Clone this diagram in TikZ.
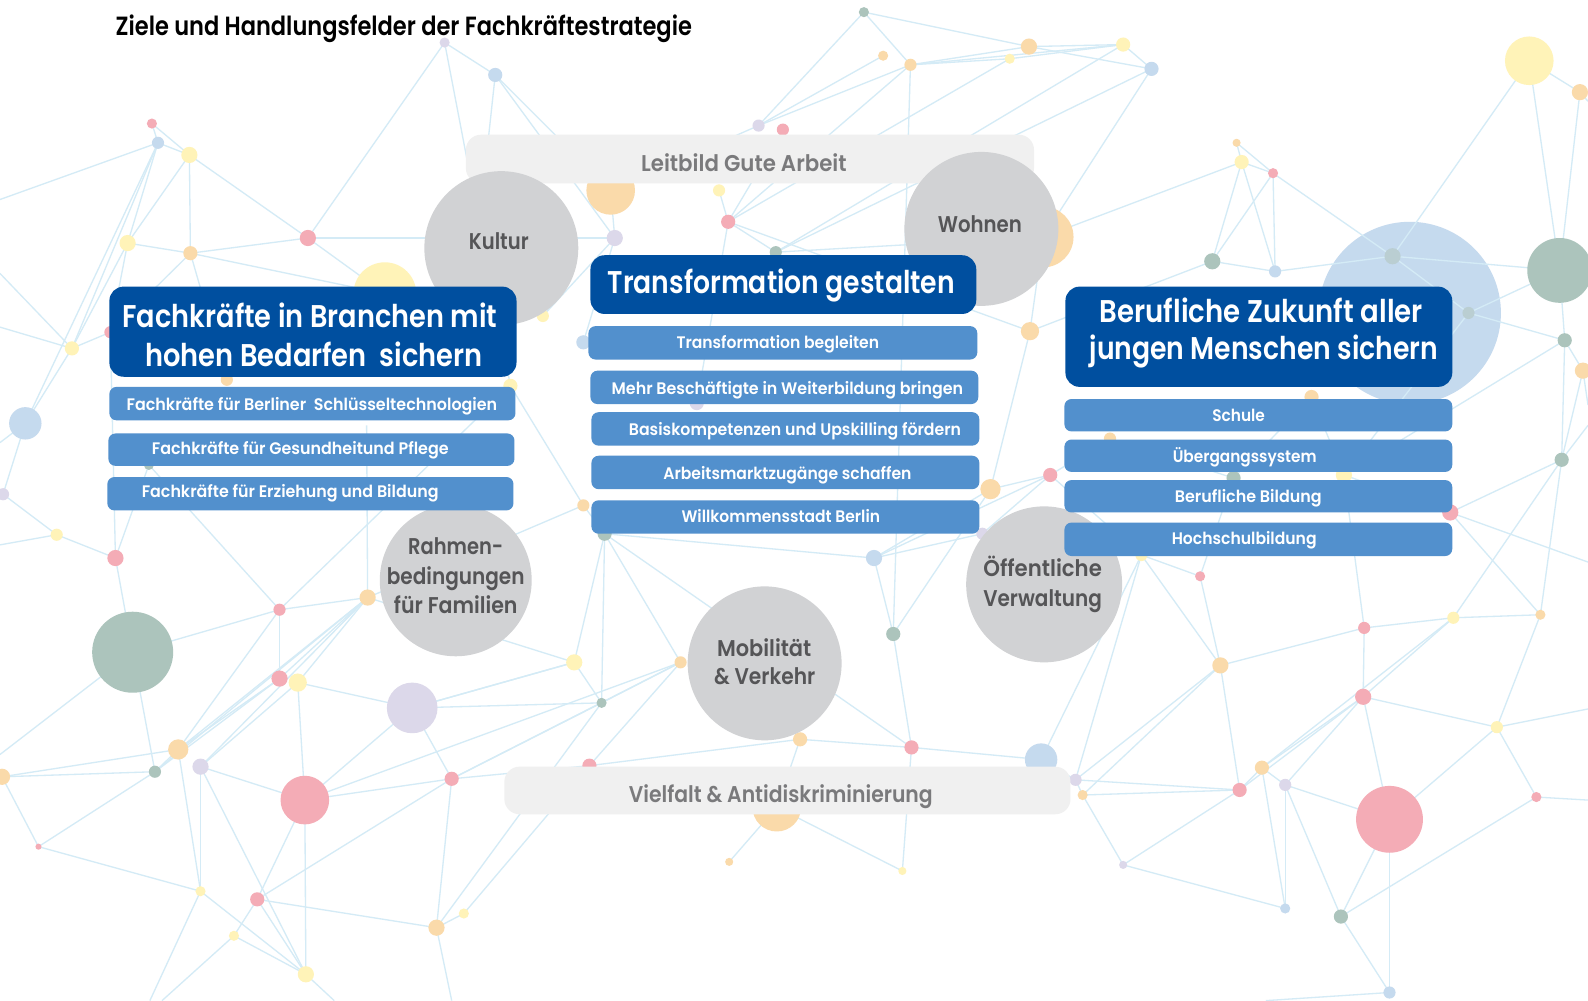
\documentclass[tikz,border=0pt]{standalone}
\usepackage{fontspec}
\setmainfont{Poppins}
\newfontfamily\semib{Poppins SemiBold}
\newfontfamily\medi{Poppins Medium}
\definecolor{hdrblue}{RGB}{0,79,159}
\definecolor{subblue}{RGB}{82,144,205}
\definecolor{circg}{RGB}{209,210,212}
\definecolor{barg}{RGB}{240,240,240}
\definecolor{circtext}{RGB}{85,85,87}
\definecolor{bartext}{RGB}{122,122,124}
\definecolor{netline}{RGB}{212,235,246}
\definecolor{dP}{RGB}{244,172,182}
\definecolor{dY}{RGB}{255,243,184}
\definecolor{dO}{RGB}{250,218,170}
\definecolor{dB}{RGB}{197,218,238}
\definecolor{dL}{RGB}{220,216,234}
\definecolor{dG}{RGB}{172,196,188}
\definecolor{dF}{RGB}{186,206,210}
\newsavebox\fitbox
\newlength\fitlen
\newcommand\fitto[2]{\sbox\fitbox{#2}\setlength\fitlen{\wd\fitbox}\pgfmathsetmacro\fitr{#1/\fitlen}\scalebox{\fitr}[1]{\usebox\fitbox}}
\tikzset{
  net/.style={draw=netline, line width=1.3pt},
  hdr/.style={rectangle, rounded corners=14pt, fill=hdrblue, inner sep=0pt},
  subbox/.style={rectangle, rounded corners=7pt, fill=subblue, inner sep=0pt},
  barbox/.style={rectangle, rounded corners=15pt, fill=barg, inner sep=0pt},
  field/.style={circle, fill=circg, inner sep=0pt},
  htxt/.style={font=\semib\fontsize{31}{31}\selectfont, text=white, inner sep=0pt, anchor=base},
  stxt/.style={font=\semib\fontsize{16.5}{16.5}\selectfont, text=white, inner sep=0pt, anchor=base},
  ctxt/.style={font=\semib\fontsize{22.5}{22.5}\selectfont, text=circtext, inner sep=0pt, anchor=base},
  btxt/.style={font=\semib\fontsize{22.5}{22.5}\selectfont, text=bartext, inner sep=0pt, anchor=base},
}
\begin{document}
\begin{tikzpicture}[x=1pt,y=-1pt]
\useasboundingbox (0,0) rectangle (1568,988);
\fill[white] (0,0) rectangle (1568,988);
\begin{scope}
\clip (0,0) rectangle (1568,988);
% dots: name/x/y/r/colour
\foreach \n/\x/\y/\r/\c in {
a1/150/122/5/dP, a2/156/141/6/dB, a3/187/153/8/dY, a4/126/240/8/dY, a5/188/250/7/dO,
a6/304/235/8/dP, a7/380/290/31/dY, a8/71/344/7/dY, a9/109/328/6/dP, a10/224/375/6/dO,
a11/25/418/16/dB, a12/3/488/6/dL, a13/56/528/6/dY, a14/114/551/8/dP, a15/363/590/8/dO,
a16/147/459/5/dG, a17/276/602/6/dP, a18/131/644/40/dG, a19/276/670/8/dP, a20/294/674/9/dY,
a21/407/699/25/dL, a22/176/740/10/dO, a23/198/757/8/dL, a24/153/762/6/dG, a25/2/767/8/dO,
a26/301/790/24/dP, a27/446/769/7/dP, a28/38/836/3/dP, a29/198/880/5/dY, a30/254/888/7/dP,
a31/231/924/5/dY, a32/302/962/8/dY, a33/431/916/8/dO, a34/458/902/5/dY, a35/489/74/7/dB,
a36/439/42/5/dL, a37/504/381/7/dY, a38/536/312/6/dY,
b1/603/188/24/dO, b2/607/235/8/dL, b3/710/188/6/dY, b4/719/219/7/dP, b5/766/249/6/dG,
b6/749/124/6/dL, b7/773/128/6/dP, b8/853/12/5/dG, b9/872/55/5/dO, b10/899/64/6/dO,
b11/997/58/5/dY, b12/1016/46/8/dO, b13/1109/44/7/dY, b14/1137/68/7/dB, b15/1030/234/30/dO,
b16/1017/327/9/dO, b17/576/338/7/dB, b18/688/398/7/dL, b19/576/499/6/dO, b20/597/527/7/dG,
b21/567/654/8/dY, b22/594/694/5/dG, b23/672/654/6/dO, b24/582/756/7/dP, b25/863/551/8/dB,
b26/882/626/7/dG, b27/790/730/7/dO, b28/900/738/7/dP, b29/767/797/24/dO, b30/720/851/4/dO,
b31/891/860/4/dY, b32/978/483/10/dO, b33/1037/469/7/dP, b34/1028/750/16/dB, b35/1062/770/6/dL,
b36/1069/785/5/dO, b38/970/527/6/dL,
c1/1510/60/24/dY, c2/1560/91/8/dO, c3/1221/141/4/dO, c4/1226/160/7/dY, c5/1257/171/5/dP,
c6/1197/258/8/dG, c7/1259/268/6/dB, c9/1375/253/8/dF, c10/1450/309/6/dF,
c11/1540/267/32/dG, c12/1545/336/7/dG, c13/1563/366/8/dO, c14/1542/454/7/dG, c15/1432/506/8/dP,
c16/1295/392/7/dO, c17/1096/433/6/dO, c18/1218/472/7/dG, c19/1327/469/8/dY, c20/1127/548/6/dY,
c21/1185/569/5/dP, c22/1205/657/8/dO, c23/1347/620/6/dP, c24/1346/688/8/dP, c25/1435/610/6/dY,
c26/1521/607/5/dO, c27/1478/718/6/dY, c28/1517/787/5/dP, c29/1372/809/33/dP, c30/1324/905/7/dG,
c31/1372/980/6/dB, c32/1269/897/5/dB, c33/1269/775/6/dL, c34/1246/758/7/dO, c35/1224/780/7/dP,
c36/1109/854/4/dL}
{\coordinate (\n) at (\x,\y);}
\coordinate (c8) at (1392,309);
\foreach \n/\x/\y in {e1/0/197, e2/0/270, e3/0/323, e4/0/437, e5/0/538, e6/0/745, e7/148/988,
e8/160/988, e9/330/988, e10/446/988, e11/1568/100, e12/1568/400, e13/1568/420, e14/1568/555,
e15/1568/790, e16/1568/700, e17/1250/988, k1/470/250, h1/362/420}
{\coordinate (\n) at (\x,\y);}
\fill[dB] (c8) circle (90);
\foreach \u/\v in {
e1/a2, a1/a2, a1/a3, a2/a3, a2/a4, a2/a8, a2/a11, a3/a4, a3/a5, a3/a6, a4/a5, a4/a9, a5/a6,
a5/a7, a5/a9, a5/a10, a6/a7, a6/b2, a6/a36, a8/e2, a8/e3, a8/a11, a8/a9, a4/a8, a11/a12, a11/e4,
a12/a13, a13/e5, a13/a14, a14/a16, a14/a9, a14/a18, a16/a17, a17/a18, a17/a15, a17/a19, a17/a22,
a17/a37, a15/h1, a15/a19, a15/a20, a15/a22, a15/a24, a15/a23, a19/a22, a19/a24, a20/a23, a20/a21,
a20/a26, a21/a26, a21/a27, a21/b22, a21/b21, a26/a27, a26/a30, a26/a32, a27/a30, a27/b22, a27/a33,
a27/b24, a22/a24, a22/a25, a24/a25, a18/a24, a18/e6, a23/a26, a23/a29, a23/a32, a22/a29, a25/a28,
a28/a29, a28/a24, a29/a32, a29/e7, a30/a31, a30/a32, a31/a32, a31/e8, a32/e9, a33/a34, a33/e10,
a33/a30, a34/b24, a33/b22, a36/a35, a36/a37, a35/b1, a35/b2, a35/k1, b1/b2, b2/a38, b2/b17,
b6/b8, b6/b10, b6/b9, b6/b1, b8/b10, b8/b12, b10/b12, b10/b13, b11/b13, b12/b13, b12/b14, b13/b14,
b10/b11, b10/b26, b11/b4, b10/b4, b13/b5, b14/b5, b14/b15, b15/c4, b3/b4, b4/b5, b4/b16, b4/b7,
b4/b18, b5/b15, b16/b15, b16/c6, b16/b32, b19/b20, b19/a15, b19/a37, b20/b21, b20/b22, b20/b23,
b20/b28, b21/b22, b21/a15, b21/a21, b22/b23, b23/a27, b23/a26, b23/b24, b24/b27, b27/b28, b26/b28,
b26/b25, b26/b32, b25/b38, b25/b32, b25/b33, b25/b20, b28/b34, b28/b31, b29/b30, b29/b31, b29/b27,
b34/b35, b34/c20, b35/b36, b32/b33, b33/c20, b33/c17, b38/b33,
c1/c2, c1/c9, c1/c11, c2/c11, c2/e11, c3/c4, c3/c5, c4/c5, c4/c6, c4/c7, c5/c6, c5/c7, c5/c9,
c6/c7, c7/c9, c9/c11, c9/c10, c10/c11, c10/c12, c10/c19, c11/c12, c12/c13, c12/c14, c12/c19,
c13/c14, c13/e12, c14/c15, c14/c25, c14/c26, c14/e13, c15/c19, c15/c26, c15/e14, c17/c18, c18/c21,
c16/c19, c16/c18, c20/c21, c20/c22, c20/b35, c21/c22, c22/c23, c22/b35, c22/c35, c22/b36, c23/c24,
c23/c25, c23/c19, c24/c25, c24/c34, c24/c35, c24/c27, c24/c33, c24/c29, c25/c26, c25/c34, c26/c27,
c27/c28, c27/c29, c27/e16, c28/c30, c28/e15, c29/c33, c29/c30, c29/c31, c30/c31, c30/c33, c32/c33,
c32/c36, c32/c34, c36/b36, c36/c35, b35/c35, b36/c35, c34/c35, c33/c34, c31/e17}
{\draw[net] (\u) -- (\v);}
\foreach \n/\x/\y/\r/\c in {
a1/150/122/5/dP, a2/156/141/6/dB, a3/187/153/8/dY, a4/126/240/8/dY, a5/188/250/7/dO,
a6/304/235/8/dP, a7/380/290/31/dY, a8/71/344/7/dY, a9/109/328/6/dP, a10/224/375/6/dO,
a11/25/418/16/dB, a12/3/488/6/dL, a13/56/528/6/dY, a14/114/551/8/dP, a15/363/590/8/dO,
a16/147/459/5/dG, a17/276/602/6/dP, a18/131/644/40/dG, a19/276/670/8/dP, a20/294/674/9/dY,
a21/407/699/25/dL, a22/176/740/10/dO, a23/198/757/8/dL, a24/153/762/6/dG, a25/2/767/8/dO,
a26/301/790/24/dP, a27/446/769/7/dP, a28/38/836/3/dP, a29/198/880/5/dY, a30/254/888/7/dP,
a31/231/924/5/dY, a32/302/962/8/dY, a33/431/916/8/dO, a34/458/902/5/dY, a35/489/74/7/dB,
a36/439/42/5/dL, a37/504/381/7/dY, a38/536/312/6/dY,
b1/603/188/24/dO, b2/607/235/8/dL, b3/710/188/6/dY, b4/719/219/7/dP, b5/766/249/6/dG,
b6/749/124/6/dL, b7/773/128/6/dP, b8/853/12/5/dG, b9/872/55/5/dO, b10/899/64/6/dO,
b11/997/58/5/dY, b12/1016/46/8/dO, b13/1109/44/7/dY, b14/1137/68/7/dB, b15/1030/234/30/dO,
b16/1017/327/9/dO, b17/576/338/7/dB, b18/688/398/7/dL, b19/576/499/6/dO, b20/597/527/7/dG,
b21/567/654/8/dY, b22/594/694/5/dG, b23/672/654/6/dO, b24/582/756/7/dP, b25/863/551/8/dB,
b26/882/626/7/dG, b27/790/730/7/dO, b28/900/738/7/dP, b29/767/797/24/dO, b30/720/851/4/dO,
b31/891/860/4/dY, b32/978/483/10/dO, b33/1037/469/7/dP, b34/1028/750/16/dB, b35/1062/770/6/dL,
b36/1069/785/5/dO, b38/970/527/6/dL,
c1/1510/60/24/dY, c2/1560/91/8/dO, c3/1221/141/4/dO, c4/1226/160/7/dY, c5/1257/171/5/dP,
c6/1197/258/8/dG, c7/1259/268/6/dB, c9/1375/253/8/dF, c10/1450/309/6/dF,
c11/1540/267/32/dG, c12/1545/336/7/dG, c13/1563/366/8/dO, c14/1542/454/7/dG, c15/1432/506/8/dP,
c16/1295/392/7/dO, c17/1096/433/6/dO, c18/1218/472/7/dG, c19/1327/469/8/dY, c20/1127/548/6/dY,
c21/1185/569/5/dP, c22/1205/657/8/dO, c23/1347/620/6/dP, c24/1346/688/8/dP, c25/1435/610/6/dY,
c26/1521/607/5/dO, c27/1478/718/6/dY, c28/1517/787/5/dP, c29/1372/809/33/dP, c30/1324/905/7/dG,
c31/1372/980/6/dB, c32/1269/897/5/dB, c33/1269/775/6/dL, c34/1246/758/7/dO, c35/1224/780/7/dP,
c36/1109/854/4/dL}
{\fill[\c] (\x,\y) circle (\r);}
\end{scope}
% bars
\node[barbox, minimum width=561pt, minimum height=48pt] (leitbar) at (740.5,157) {};
\node[barbox, minimum width=559pt, minimum height=47pt] (vielbar) at (777.5,780.5) {};
\node[btxt] (leittxt) at (734.5,169) {\fitto{203}{Leitbild Gute Arbeit}};
\node[btxt] (vieltxt) at (771,792) {\fitto{300}{Vielfalt \& Antidiskriminierung}};
% fields
\node[field, minimum size=152pt] (kultur) at (495,245) {};
\node[field, minimum size=152pt] (wohnen) at (969,226) {};
\node[field, minimum size=150pt] (rahmen) at (450,573) {};
\node[field, minimum size=152pt] (mobil) at (755,655) {};
\node[field, minimum size=154pt] (oeff) at (1031,577) {};
\node[ctxt] (kulturt) at (492.5,246) {\fitto{59}{Kultur}};
\node[ctxt] (wohnent) at (967.5,230) {\fitto{83}{Wohnen}};
\node[ctxt] (rahment1) at (450,548) {\fitto{94}{Rahmen-}};
\node[ctxt] (rahment2) at (450,577) {\fitto{136}{bedingungen}};
\node[ctxt] (rahment3) at (450,606) {\fitto{122}{für Familien}};
\node[ctxt] (mobilt1) at (754.5,648) {\fitto{93}{Mobilität}};
\node[ctxt] (mobilt2) at (755,676) {\fitto{100}{\& Verkehr}};
\node[ctxt] (oefft1) at (1029.5,569) {\fitto{117}{Öffentliche}};
\node[ctxt] (oefft2) at (1029.5,599) {\fitto{117}{Verwaltung}};
% left column
\node[hdr, minimum width=402pt, minimum height=89pt] (lhdr) at (309,327.5) {};
\node[htxt] (lhdr1) at (306,323) {\fitto{370}{Fachkräfte in Branchen mit}};
\node[htxt] (lhdr2) at (310,362) {\fitto{333}{hohen Bedarfen\ \ sichern}};
\node[subbox, minimum width=401pt, minimum height=33pt] (l1) at (308.5,398.5) {};
\node[subbox, minimum width=401pt, minimum height=32pt] (l2) at (307.5,444) {};
\node[subbox, minimum width=401pt, minimum height=33pt] (l3) at (306.5,487.5) {};
\node[stxt] (l1t) at (308,405) {\fitto{366}{Fachkräfte für Berliner\ \ Schlüsseltechnologien}};
\node[stxt] (l2t) at (296.5,449) {\fitto{293}{Fachkräfte für Gesundheitund Pflege}};
\node[stxt] (l3t) at (286.5,491) {\fitto{293}{Fachkräfte für Erziehung und Bildung}};
% middle column
\node[hdr, minimum width=381pt, minimum height=58pt] (mhdr) at (773.5,281) {};
\node[htxt] (mhdrt) at (771.5,290) {\fitto{343}{Transformation gestalten}};
\node[subbox, minimum width=384pt, minimum height=33pt] (m1) at (773,338.5) {};
\node[subbox, minimum width=383pt, minimum height=33pt] (m2) at (774.5,382.5) {};
\node[subbox, minimum width=383pt, minimum height=33pt] (m3) at (775.5,423.5) {};
\node[subbox, minimum width=383pt, minimum height=33pt] (m4) at (775.5,466.5) {};
\node[subbox, minimum width=383pt, minimum height=33pt] (m5) at (775.5,510.5) {};
\node[stxt] (m1t) at (768,344) {\fitto{200}{Transformation begleiten}};
\node[stxt] (m2t) at (777.5,390) {\fitto{347}{Mehr Beschäftigte in Weiterbildung bringen}};
\node[stxt] (m3t) at (785,430) {\fitto{328}{Basiskompetenzen und Upskilling fördern}};
\node[stxt] (m4t) at (777.5,473) {\fitto{245}{Arbeitsmarktzugänge schaffen}};
\node[stxt] (m5t) at (771,516) {\fitto{196}{Willkommensstadt Berlin}};
% right column
\node[hdr, minimum width=382pt, minimum height=99pt] (rhdr) at (1243,332.5) {};
\node[htxt] (rhdr1) at (1245.5,318) {\fitto{319}{Berufliche Zukunft aller}};
\node[htxt] (rhdr2) at (1248,355) {\fitto{344}{jungen Menschen sichern}};
\node[subbox, minimum width=383pt, minimum height=32pt] (r1) at (1242.5,410) {};
\node[subbox, minimum width=383pt, minimum height=32pt] (r2) at (1242.5,450) {};
\node[subbox, minimum width=383pt, minimum height=32pt] (r3) at (1242.5,490) {};
\node[subbox, minimum width=383pt, minimum height=33pt] (r4) at (1242.5,532.5) {};
\node[stxt] (r1t) at (1223,416) {\fitto{52}{Schule}};
\node[stxt] (r2t) at (1229,457) {\fitto{142}{Übergangssystem}};
\node[stxt] (r3t) at (1232.5,496) {\fitto{145}{Berufliche Bildung}};
\node[stxt] (r4t) at (1228.5,538) {\fitto{143}{Hochschulbildung}};
% title
\node[anchor=base west, inner sep=0pt, font=\semib\fontsize{26}{26}\selectfont, text=black] (title) at (114,35.5) {\fitto{569}{Ziele und Handlungsfelder der Fachkräftestrategie}};
\end{tikzpicture}
\end{document}
